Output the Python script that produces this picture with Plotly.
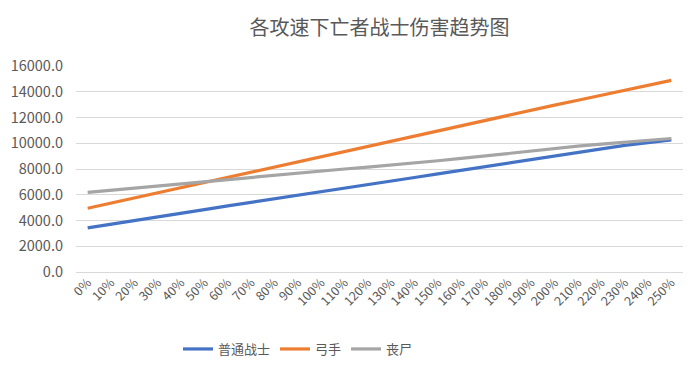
import plotly.graph_objects as go

categories = [f"{p}%" for p in range(0, 260, 10)]

warrior = [3430, 3700, 3980, 4270, 4560, 4840, 5130, 5400, 5680, 5950,
           6230, 6500, 6780, 7060, 7340, 7620, 7900, 8180, 8460, 8740,
           9010, 9280, 9560, 9830, 10050, 10260]
archer = [4950, 5350, 5750, 6150, 6560, 6970, 7380, 7780, 8190, 8580,
          8980, 9380, 9780, 10180, 10590, 11000, 11410, 11810, 12180, 12570,
          12960, 13340, 13730, 14110, 14500, 14880]
zombie = [6190, 6360, 6530, 6700, 6870, 7040, 7210, 7380, 7540, 7700,
          7850, 8000, 8150, 8300, 8460, 8640, 8820, 9020, 9240, 9440,
          9620, 9780, 9930, 10080, 10230, 10370]

series_names = ["普通战士", "弓手", "丧尸"]
colors = ["#4472C4", "#ED7D31", "#A5A5A5"]

FONT = "Noto Sans CJK SC"
TXT = "#595959"

fig = go.Figure()
for name, vals, c in zip(series_names, [warrior, archer, zombie], colors):
    fig.add_trace(go.Scatter(x=categories, y=vals, name=name, mode="lines",
                             line=dict(color=c, width=3.2)))

fig.update_layout(
    width=700, height=374,
    margin=dict(l=76, r=17, t=66, b=101),
    paper_bgcolor="white", plot_bgcolor="white",
    font=dict(family=FONT, color=TXT, size=13),
    title=dict(text="各攻速下亡者战士伤害趋势图", x=0.5, xref="paper", xanchor="center",
               y=1 - 28 / 374, yref="container", yanchor="middle",
               font=dict(size=20, color=TXT, family=FONT)),
    showlegend=True,
    legend=dict(orientation="h", x=(298 - 76) / 607, xanchor="center",
                y=-(349 - 273) / 207, yanchor="middle",
                font=dict(size=13, color=TXT, family=FONT),
                itemwidth=30, tracegroupgap=0, bgcolor="rgba(0,0,0,0)"),
)
fig.update_xaxes(type="category", range=[-0.5, 25.5], tickangle=-45,
                 tickfont=dict(size=12.5, color=TXT, family=FONT),
                 showgrid=False, showline=False, ticks="", zeroline=False)
fig.update_yaxes(range=[0, 16000], dtick=2000, tickformat=".1f",
                 tickfont=dict(size=14.5, color=TXT, family=FONT),
                 showgrid=True, gridcolor="#D9D9D9", gridwidth=1,
                 zeroline=True, zerolinecolor="#D9D9D9", zerolinewidth=1,
                 showline=False, ticks="", ticklabelstandoff=12)

fig.write_html("out.html", config={"displayModeBar": False},
               post_script="document.body.style.margin='0';document.body.style.padding='0';")
